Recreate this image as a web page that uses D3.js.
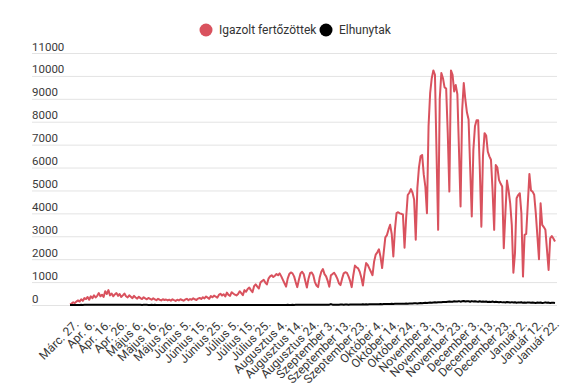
<!DOCTYPE html>
<html>
<head>
<meta charset="utf-8">
<script src="https://cdn.jsdelivr.net/npm/d3@7"></script>
<style>
  html, body { margin: 0; padding: 0; background: #fff; }
  svg { display: block; font-family: Roboto, "Noto Sans", sans-serif; }
</style>
</head>
<body>
<svg id="chart" width="578" height="385"></svg>
<script>
// ---- data ----
const seriesNames = ["Igazolt fertőzöttek", "Elhunytak"];
const seriesColors = ["#d9525e", "#000000"];

const tickLabels = [
  "Márc. 27.", "Apr. 6.", "Apr. 16.", "Apr. 26.", "Május 6.", "Május 16.", "Május 26.",
  "Június 5.", "Június 15.", "Június 25.", "Július 5.", "Július 15.", "Július 25.",
  "Augusztus 4.", "Augusztus 14.", "Augusztus 24.", "Szeptember 3.", "Szeptember 13.",
  "Szeptember 23.", "Október 4.", "Október 14.", "Október 24.", "November 3.",
  "November 13.", "November 23.", "December 3.", "December 13.", "December 23.",
  "Január 2.", "Január 12.", "Január 22."
];
const yTicks = [0, 1000, 2000, 3000, 4000, 5000, 6000, 7000, 8000, 9000, 10000, 11000];

const confirmed = [
  30, 60, 120, 80, 150, 200, 150, 250, 180, 300,
  260, 350, 230, 380, 300, 420, 330, 400, 520, 380,
  450, 350, 600, 480, 650, 420, 500, 380, 460, 520,
  400, 480, 350, 420, 500, 380, 330, 420, 360, 300,
  400, 330, 280, 360, 300, 260, 340, 290, 250, 310,
  270, 230, 290, 250, 210, 270, 230, 200, 250, 220,
  240, 200, 230, 190, 250, 210, 180, 230, 200, 250,
  220, 190, 240, 270, 210, 260, 230, 290, 250, 220,
  280, 310, 260, 340, 290, 370, 320, 270, 390, 340,
  410, 370, 320, 440, 490, 410, 470, 370, 540, 440,
  400, 560, 500, 450, 420, 480, 600, 520, 430, 650,
  580, 700, 760, 650, 560, 820, 900, 800, 720, 980,
  1050, 1100, 980, 900, 1150, 1250, 1300, 1220, 1280, 1350,
  1300, 1380, 1250, 1100, 950, 800, 1150, 1350, 1420, 1380,
  1250, 1000, 780, 1100, 1380, 1450, 1350, 1050, 760, 1150,
  1400, 1420, 1300, 1000, 850, 780, 1200, 1450, 1570, 1350,
  1250, 1050, 800, 1300, 1350, 1410, 1300, 1150, 950, 870,
  1150, 1380, 1430, 1400, 1250, 1050, 780, 1300, 1720, 1650,
  1600, 1450, 1200, 850, 1400, 1830, 1750, 1600, 1450, 1300,
  1900, 2200, 2300, 2430, 2100, 1610, 2300, 2950, 3050, 3300,
  3500, 3100, 2120, 3300, 4010, 4050, 4000, 3980, 3950, 2500,
  3800, 4800, 4900, 5060, 4900, 4600, 2850, 5100, 6000, 6490,
  6550, 5700, 5170, 4010, 7800, 9250, 9900, 10240, 10050, 6600,
  3280, 9000, 10130, 9900, 9500, 9450, 7500, 4950, 10240, 10050,
  9320, 9600, 9200, 6800, 4300, 8500, 9690, 8960, 8400, 8100,
  6000, 3860, 6770, 7800, 8060, 8060, 6000, 3420, 6500, 7500,
  7400, 6700, 6490, 6340, 5000, 3280, 6110, 6000, 5460, 5300,
  5170, 2480, 4000, 5430, 5000, 4440, 3500, 1410, 2260, 4660,
  4800, 4880, 4010, 1240, 3060, 3100, 4400, 5720, 5000, 4950,
  4810, 4010, 3000, 2000, 4440, 3500, 3400, 3280, 2400, 1530,
  2910, 3010, 2900, 2770
];

const deaths = [
  1, 2, 3, 2, 4, 5, 3, 6, 5, 8, 9, 7, 10, 12, 8, 11, 13, 10, 9, 12, 14, 11, 10, 13, 12, 9, 11, 10, 12, 8,
  10, 9, 11, 8, 10, 12, 9, 7, 10, 8, 9, 6, 8, 7, 9, 5, 6, 8, 7, 5, 4, 6, 5, 7, 3, 5, 4, 3, 5, 4,
  3, 2, 4, 3, 2, 1, 3, 2, 1, 2, 1, 0, 1, 2, 1, 0, 1, 1, 0, 2, 1, 0, 1, 1, 0, 1, 2, 0, 1, 1,
  0, 1, 0, 1, 2, 0, 1, 0, 0, 1, 1, 0, 1, 0, 1, 2, 0, 1, 1, 0, 1, 0, 2, 1, 0, 1, 1, 2, 0, 1,
  2, 1, 3, 2, 1, 2, 4, 3, 2, 3, 4, 2, 3, 5, 4, 3, 6, 4, 5, 7, 5, 6, 8, 6, 7, 9, 8, 6, 10, 8,
  9, 11, 10, 8, 12, 11, 13, 10, 12, 14, 13, 11, 15, 40, 14, 12, 16, 15, 13, 18, 17, 15, 20, 18, 16, 22, 20, 18, 24, 22,
  20, 25, 22, 28, 24, 30, 26, 32, 28, 35, 30, 33, 38, 35, 40, 36, 42, 45, 40, 48, 44, 50, 46, 52, 55, 50, 58, 54, 60, 57,
  62, 58, 66, 70, 64, 72, 76, 70, 80, 85, 78, 90, 95, 88, 100, 105, 98, 110, 115, 108, 120, 125, 118, 130, 135, 128, 140, 150, 138, 145,
  160, 150, 155, 170, 145, 160, 175, 150, 165, 160, 140, 170, 155, 165, 150, 140, 160, 145, 155, 140, 150, 130, 145, 135, 150, 125, 140, 130, 120, 135,
  115, 125, 110, 130, 120, 105, 125, 110, 120, 100, 115, 105, 120, 95, 110, 100, 115, 105, 95, 110, 100, 90, 105, 95, 110, 90, 100, 115, 95, 105, 85, 95, 100, 90
];

// ---- drawing ----
const svg = d3.select("#chart");
const n = Math.min(confirmed.length, deaths.length);
const idx = d3.range(n);

const x = d3.scalePoint().domain(idx).range([70, 555]);
const y = d3.scaleLinear().domain([0, 11000]).range([305, 53]);

const gridLeft = 32, gridRight = 557;

// gridlines + y labels (labels sit above their gridline)
const yAxis = d3.axisLeft(y).tickValues(yTicks).tickSize(-(gridRight - gridLeft)).tickFormat(d => d);
const gy = svg.append("g").attr("transform", `translate(${gridLeft},0)`).call(yAxis);
gy.select(".domain").remove();
gy.selectAll(".tick line").attr("stroke", "#e3e3e3").attr("stroke-width", 1).attr("x1", 0).attr("x2", gridRight - gridLeft);
gy.selectAll(".tick text")
  .attr("x", 0).attr("dy", "-3px").attr("text-anchor", "start")
  .attr("fill", "#3a3a3a").style("font-size", "11.5px").style("font-family", "Roboto, sans-serif");

// x axis labels
const tickIdx = tickLabels.map((_, k) => k * 10).filter(i => i < n);
const xAxis = d3.axisBottom(x).tickValues(tickIdx).tickSize(0).tickFormat(i => tickLabels[i / 10]);
const gx = svg.append("g").attr("transform", "translate(0,0)").call(xAxis);
gx.select(".domain").remove();
gx.selectAll(".tick text")
  .attr("text-anchor", "end")
  .attr("y", 0).attr("dy", "0")
  .attr("transform", "translate(9,325) rotate(-45)")
  .attr("fill", "#383838").style("font-size", "12px").style("font-family", "Roboto, sans-serif");

// lines
const line = d3.line().x((d, i) => x(i)).y(d => y(d));
svg.append("path").datum(confirmed.slice(0, n))
  .attr("fill", "none").attr("stroke", seriesColors[0]).attr("stroke-width", 2)
  .attr("stroke-linejoin", "round").attr("d", line);
svg.append("path").datum(deaths.slice(0, n))
  .attr("fill", "none").attr("stroke", seriesColors[1]).attr("stroke-width", 2)
  .attr("stroke-linejoin", "round").attr("d", line);

// legend
const legendItems = [
  { name: seriesNames[0], color: seriesColors[0], cx: 206 },
  { name: seriesNames[1], color: seriesColors[1], cx: 326 }
];
const lg = svg.append("g");
legendItems.forEach(it => {
  lg.append("circle").attr("cx", it.cx).attr("cy", 30).attr("r", 6.5).attr("fill", it.color);
  lg.append("text").attr("x", it.cx + 13).attr("y", 30).attr("dy", "0.35em")
    .attr("fill", "#333").style("font-size", "12px").text(it.name);
});
</script>
</body>
</html>
